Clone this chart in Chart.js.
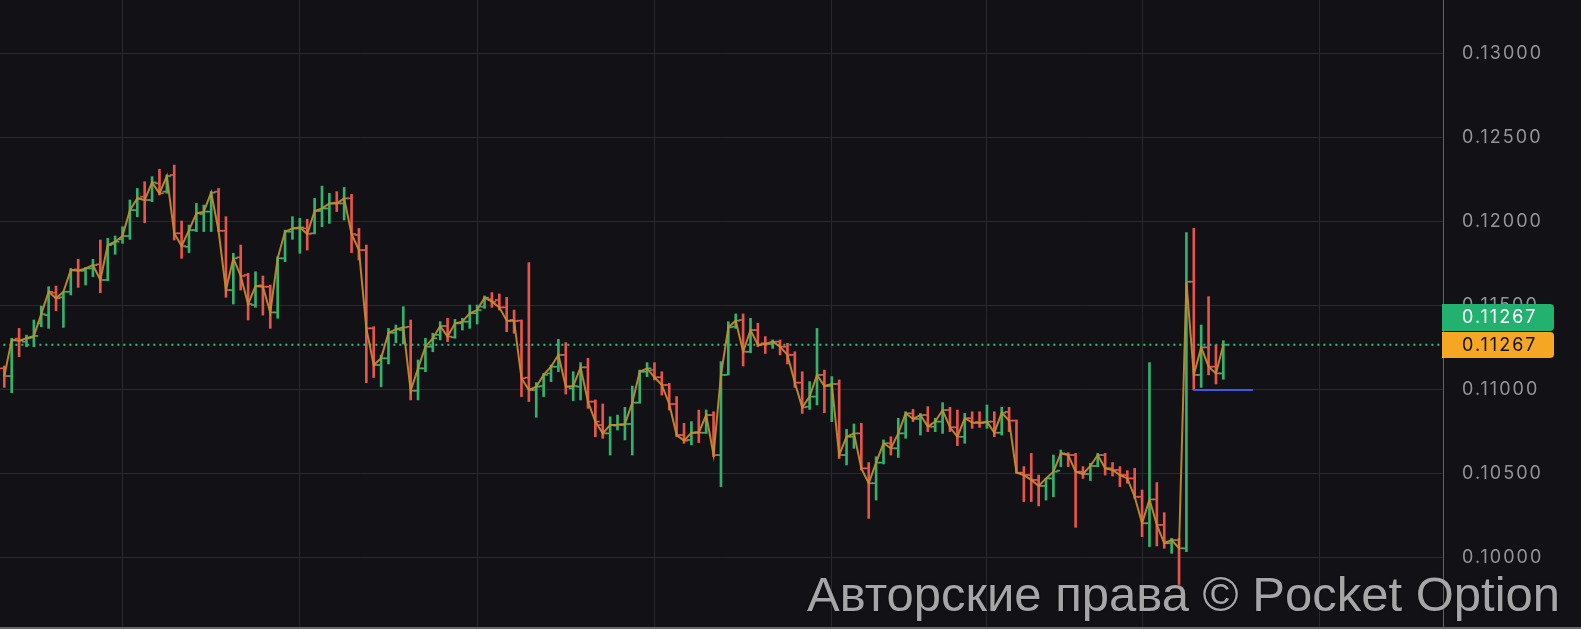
<!DOCTYPE html>
<html><head><meta charset="utf-8">
<script src="https://cdn.jsdelivr.net/npm/chart.js@4.4.1/dist/chart.umd.min.js"></script>
<style>
html,body{margin:0;padding:0;background:#111116;}
#wrap{position:relative;width:1581px;height:629px;background:#111116;overflow:hidden;}
#c{position:absolute;left:0;top:0;}
#bottomline{position:absolute;left:0;top:627px;width:1581px;height:2px;background:#66666b;}
#wm{position:absolute;left:807px;top:570px;font:49px "Liberation Sans",Arial,sans-serif;line-height:49px;color:#a6a6a9;white-space:nowrap;text-shadow:0 0 2px rgba(0,0,0,0.7);}
</style></head>
<body>
<div id="wrap">
<canvas id="c" width="1581" height="627"></canvas>
<div id="bottomline"></div>
<div id="wm">Авторские права © Pocket Option</div>
</div>
<script>
// ---- data ----
const opens = [0.11127,0.11081,0.11304,0.11286,0.11310,0.11395,0.11444,0.11577,0.11550,0.11583,
0.11716,0.11708,0.11722,0.11746,0.11653,0.11867,0.11895,0.11915,0.12069,0.12149,
0.12129,0.12228,0.12179,0.12278,0.11931,0.11851,0.11950,0.12046,0.12060,0.12179,
0.11946,0.11593,0.11788,0.11683,0.11504,0.11621,0.11613,0.11460,0.11782,0.11941,
0.11960,0.11960,0.11931,0.12064,0.12079,0.12113,0.12109,0.12139,0.11921,0.11831,
0.11365,0.11147,0.11187,0.11339,0.11355,0.11375,0.10994,0.11127,0.11256,0.11326,
0.11379,0.11312,0.11395,0.11405,0.11455,0.11494,0.11538,0.11534,0.11490,0.11415,
0.11411,0.11072,0.10998,0.11022,0.11097,0.11137,0.11207,0.11008,0.11018,0.11133,
0.10929,0.10790,0.10740,0.10786,0.10790,0.10796,0.10923,0.11107,0.11117,0.11074,
0.11028,0.10915,0.10730,0.10701,0.10748,0.10744,0.10849,0.10611,0.11088,0.11375,
0.11415,0.11226,0.11355,0.11276,0.11272,0.11286,0.11256,0.11207,0.11042,0.10899,
0.10959,0.11088,0.11022,0.11034,0.10611,0.10720,0.10740,0.10532,0.10443,0.10566,
0.10681,0.10651,0.10740,0.10859,0.10826,0.10849,0.10780,0.10810,0.10879,0.10776,
0.10720,0.10830,0.10808,0.10804,0.10810,0.10744,0.10868,0.10816,0.10506,0.10492,
0.10463,0.10427,0.10472,0.10518,0.10617,0.10611,0.10512,0.10498,0.10546,0.10611,
0.10532,0.10522,0.10492,0.10472,0.10363,0.10205,0.10347,0.10195,0.10086,0.10105,
0.10056,0.11643,0.11088,0.11252,0.11137,0.11097];
const highs = [0.11141,0.11306,0.11365,0.11325,0.11415,0.11498,0.11613,0.11617,0.11583,0.11722,
0.11776,0.11728,0.11776,0.11891,0.11901,0.11915,0.11970,0.12129,0.12198,0.12238,
0.12268,0.12312,0.12278,0.12337,0.12004,0.11980,0.12109,0.12099,0.12179,0.12198,
0.12030,0.11812,0.11861,0.11693,0.11702,0.11677,0.11623,0.11792,0.11950,0.12030,
0.12020,0.12014,0.12139,0.12212,0.12169,0.12179,0.12204,0.12163,0.11960,0.11861,
0.11375,0.11206,0.11365,0.11385,0.11494,0.11415,0.11177,0.11306,0.11336,0.11405,
0.11425,0.11419,0.11425,0.11504,0.11504,0.11558,0.11578,0.11570,0.11550,0.11474,
0.11415,0.11756,0.11042,0.11097,0.11147,0.11300,0.11280,0.11107,0.11161,0.11187,
0.10939,0.10915,0.10839,0.10849,0.10895,0.11022,0.11117,0.11161,0.11161,0.11107,
0.11038,0.10959,0.10800,0.10810,0.10879,0.10879,0.10869,0.11167,0.11405,0.11451,
0.11451,0.11425,0.11395,0.11316,0.11296,0.11296,0.11276,0.11226,0.11107,0.11048,
0.11365,0.11117,0.11078,0.11058,0.10764,0.10796,0.10800,0.10566,0.10601,0.10701,
0.10720,0.10830,0.10869,0.10883,0.10859,0.10899,0.10830,0.10923,0.10895,0.10879,
0.10859,0.10869,0.10869,0.10909,0.10869,0.10895,0.10895,0.10820,0.10542,0.10621,
0.10492,0.10472,0.10611,0.10641,0.10625,0.10621,0.10542,0.10562,0.10621,0.10621,
0.10566,0.10542,0.10518,0.10532,0.10403,0.11161,0.10447,0.10268,0.10115,0.10115,
0.11935,0.11961,0.11385,0.11554,0.11266,0.11292];
const lows = [0.11014,0.10982,0.11196,0.11256,0.11256,0.11375,0.11365,0.11470,0.11371,0.11564,
0.11609,0.11623,0.11673,0.11577,0.11649,0.11806,0.11871,0.11895,0.12030,0.11994,
0.12119,0.12159,0.12169,0.11891,0.11782,0.11816,0.11941,0.11941,0.11941,0.11941,
0.11550,0.11510,0.11593,0.11415,0.11490,0.11444,0.11365,0.11425,0.11762,0.11895,
0.11812,0.11831,0.11927,0.11970,0.11990,0.12060,0.12010,0.11816,0.11772,0.11042,
0.11073,0.11018,0.11153,0.11280,0.11272,0.10939,0.10939,0.11107,0.11226,0.11296,
0.11286,0.11306,0.11355,0.11365,0.11391,0.11484,0.11490,0.11474,0.11345,0.11336,
0.10959,0.10929,0.10836,0.10959,0.11048,0.11107,0.10974,0.10935,0.10939,0.10889,
0.10720,0.10711,0.10611,0.10760,0.10701,0.10611,0.10919,0.11078,0.11058,0.10968,
0.10879,0.10720,0.10681,0.10671,0.10685,0.10740,0.10601,0.10423,0.11088,0.11365,
0.11141,0.11220,0.11256,0.11216,0.11246,0.11207,0.11153,0.11014,0.10859,0.10883,
0.10909,0.10863,0.10810,0.10591,0.10552,0.10651,0.10522,0.10234,0.10343,0.10558,
0.10611,0.10597,0.10711,0.10810,0.10730,0.10750,0.10750,0.10740,0.10750,0.10667,
0.10681,0.10770,0.10776,0.10770,0.10720,0.10730,0.10750,0.10502,0.10334,0.10334,
0.10308,0.10343,0.10363,0.10542,0.10542,0.10181,0.10472,0.10459,0.10542,0.10492,
0.10486,0.10423,0.10443,0.10353,0.10125,0.10066,0.10070,0.10056,0.10026,0.09838,
0.10036,0.10998,0.11014,0.11088,0.11034,0.11062];
const closes = [0.11081,0.11296,0.11292,0.11306,0.11320,0.11450,0.11583,0.11544,0.11583,0.11712,
0.11708,0.11722,0.11742,0.11653,0.11861,0.11881,0.11915,0.12069,0.12139,0.12129,
0.12234,0.12169,0.12272,0.11931,0.11855,0.11950,0.12050,0.12060,0.12173,0.11946,
0.11593,0.11782,0.11677,0.11510,0.11617,0.11613,0.11460,0.11782,0.11941,0.11960,
0.11966,0.11927,0.12064,0.12079,0.12109,0.12109,0.12139,0.11927,0.11831,0.11365,
0.11147,0.11187,0.11339,0.11359,0.11371,0.10994,0.11127,0.11256,0.11306,0.11379,
0.11316,0.11395,0.11405,0.11455,0.11474,0.11548,0.11524,0.11490,0.11411,0.11409,
0.11068,0.10998,0.11018,0.11088,0.11137,0.11207,0.11018,0.11022,0.11133,0.10929,
0.10810,0.10740,0.10790,0.10792,0.10796,0.10923,0.11107,0.11127,0.11074,0.11028,
0.10915,0.10730,0.10697,0.10744,0.10744,0.10849,0.10611,0.11088,0.11371,0.11411,
0.11226,0.11355,0.11266,0.11272,0.11286,0.11256,0.11207,0.11042,0.10895,0.10959,
0.11088,0.11022,0.11034,0.10611,0.10720,0.10740,0.10532,0.10443,0.10566,0.10681,
0.10651,0.10740,0.10859,0.10826,0.10849,0.10780,0.10810,0.10879,0.10776,0.10720,
0.10830,0.10804,0.10802,0.10810,0.10744,0.10863,0.10816,0.10506,0.10492,0.10463,
0.10427,0.10472,0.10512,0.10621,0.10611,0.10512,0.10498,0.10546,0.10611,0.10532,
0.10522,0.10492,0.10472,0.10363,0.10205,0.10347,0.10195,0.10086,0.10105,0.10056,
0.11643,0.11088,0.11252,0.11137,0.11097,0.11267];
const currentPrice = 0.11267;
const supportLevel = 0.10998;
const supportFrom = 161, supportTo = 169;
const yTickValues = [0.10, 0.105, 0.11, 0.115, 0.12, 0.125, 0.13];
const timeGridIdx = [16, 40, 64, 88, 112, 133, 154, 178];

// ---- styling ----
const GREEN = '#34b16d', RED = '#e8534c', LINE = 'rgba(200,142,44,0.92)';
const colors = opens.map((o, i) => closes[i] >= o ? GREEN : RED);
const idx = opens.map((_, i) => i);
const TICK = 0.34;

const rangeData = idx.map(i => ({x: i, y: [lows[i], highs[i]]}));
const openPts = idx.map(i => ({x: i - TICK, y: opens[i]}));
const closePts = idx.map(i => ({x: i + TICK, y: closes[i]}));
const closeLine = idx.map(i => ({x: i, y: closes[i]}));

const FONT_FAMILY = 'Inter, "DejaVu Sans", sans-serif';

const spacingPlugin = {
  id: 'spacing',
  beforeDraw(chart) { chart.ctx.letterSpacing = '2px'; }
};
const priceTags = {
  id: 'priceTags',
  afterDraw(chart) {
    const ctx = chart.ctx;
    const y = Math.round(chart.scales.y.getPixelForValue(currentPrice));
    const x0 = chart.chartArea.right - 1, w = 112;
    ctx.save();
    ctx.fillStyle = '#f5a623';
    ctx.beginPath(); ctx.roundRect(x0, y - 13, w, 26, [0, 4, 4, 0]); ctx.fill();
    ctx.fillStyle = '#22b16f';
    ctx.beginPath(); ctx.roundRect(x0, y - 41, w, 27, [0, 4, 4, 0]); ctx.fill();
    ctx.font = '18px ' + FONT_FAMILY;
    ctx.textBaseline = 'middle';
    ctx.textAlign = 'left';
    ctx.fillStyle = '#ffffff';
    ctx.fillText(currentPrice.toFixed(5), chart.chartArea.right + 19, y - 27);
    ctx.fillStyle = '#111111';
    ctx.fillText(currentPrice.toFixed(5), chart.chartArea.right + 19, y + 1);
    ctx.restore();
  }
};

new Chart(document.getElementById('c'), {
  type: 'bar',
  data: {
    datasets: [
      { type: 'line', data: closeLine, borderColor: LINE, borderWidth: 2, pointRadius: 0, pointHoverRadius: 0, tension: 0, order: 0 },
      { type: 'line', data: [{x: supportFrom, y: supportLevel}, {x: supportTo, y: supportLevel}], borderColor: '#3d5be0', borderWidth: 2, pointRadius: 0, pointHoverRadius: 0, order: 0 },
      { type: 'scatter', data: openPts, pointStyle: 'line', pointRadius: 1.8, pointHoverRadius: 1.8, pointBorderWidth: 1.7, pointBorderColor: colors, pointBackgroundColor: colors, order: 1 },
      { type: 'scatter', data: closePts, pointStyle: 'line', pointRadius: 1.8, pointHoverRadius: 1.8, pointBorderWidth: 1.7, pointBorderColor: colors, pointBackgroundColor: colors, order: 1 },
      { type: 'bar', data: rangeData, backgroundColor: colors, borderWidth: 0, barThickness: 2, order: 2 },
      { type: 'line', data: [{x: -5, y: currentPrice}, {x: 200, y: currentPrice}], borderColor: '#2fc07f', borderWidth: 2, borderDash: [2, 4], pointRadius: 0, pointHoverRadius: 0, order: 3 }
    ]
  },
  options: {
    responsive: false,
    animation: false,
    events: [],
    layout: { padding: 0, autoPadding: false },
    plugins: { legend: { display: false }, tooltip: { enabled: false }, title: { display: false } },
    scales: {
      x: {
        type: 'linear', min: -0.582, max: 194.73, offset: false,
        grid: { color: '#28282d', lineWidth: 1, drawTicks: false, offset: false },
        border: { display: false },
        ticks: { display: false },
        afterBuildTicks: s => { s.ticks = timeGridIdx.map(v => ({value: v})); },
        afterFit: s => { s.height = 0; s.paddingLeft = 0; s.paddingRight = 0; }
      },
      y: {
        type: 'linear', position: 'right', min: 0.095875, max: 0.133196,
        grid: { color: '#28282d', lineWidth: 1, drawTicks: false },
        border: { display: true, color: '#606065', width: 1 },
        ticks: {
          padding: 19, color: '#939398',
          font: { family: FONT_FAMILY, size: 18 },
          callback: v => Number(v).toFixed(5)
        },
        afterBuildTicks: s => { s.ticks = yTickValues.map(v => ({value: v})); },
        afterFit: s => { s.width = 138; s.paddingTop = 0; s.paddingBottom = 0; }
      }
    }
  },
  plugins: [spacingPlugin, priceTags]
});
</script>
</body></html>
